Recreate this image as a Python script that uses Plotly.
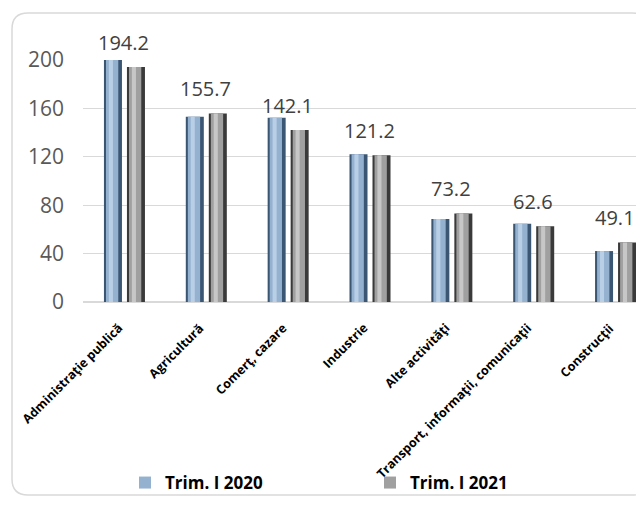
import plotly.graph_objects as go

# data
categories = ["Administraţie publică", "Agricultură", "Comerţ, cazare", "Industrie",
              "Alte activităţi", "Transport, informaţii, comunicaţii", "Construcţii"]
trim_2020 = [200.9, 153.1, 152.3, 122.1, 68.6, 64.7, 42.1]
trim_2021 = [194.2, 155.7, 142.1, 121.2, 73.2, 62.6, 49.1]
y_ticks = [0, 40, 80, 120, 160, 200]

# page geometry in px (the page body has an 8px margin)
OFF = 8
W, H = 644, 508
L, T, B = 83, 60, 302
PW, PH = W - L, B - T


def px_x(x):
    return (x - L) / PW


def px_y(y):
    return (B - y) / PH


fig = go.Figure()

# layered bars to fake the bevelled look: dark base, mid body, light stripe
series = [
    ("Trim. I 2020", trim_2020, -0.244, ["#3b5673", "#94b1d0", "#cadcf0"]),
    ("Trim. I 2021", trim_2021, 0.037, ["#3a3a3a", "#a0a0a0", "#d8d8d8"]),
]
for name, vals, off, cols in series:
    fig.add_trace(go.Bar(x=categories, y=vals, offset=off, width=0.22,
                         marker=dict(color=cols[0], line=dict(width=0)),
                         showlegend=False, hoverinfo="skip"))
    fig.add_trace(go.Bar(x=categories, y=vals, offset=off + 0.025, width=0.15,
                         marker=dict(color=cols[1], line=dict(width=0)),
                         name=name, showlegend=True))
    fig.add_trace(go.Bar(x=categories, y=vals, offset=off + 0.06, width=0.05,
                         marker=dict(color=cols[2], line=dict(width=0)),
                         opacity=0.7, showlegend=False, hoverinfo="skip"))

# value labels above each category (2021 values)
for cat, v in zip(categories, trim_2021):
    fig.add_annotation(x=cat, y=v, yshift=25, text=f"{v:.1f}", showarrow=False,
                       font=dict(family="Open Sans", size=20, color="#404040"))

# rotated category labels, top-right corner just under the axis
for cat in categories:
    fig.add_annotation(x=cat, xref="x", y=px_y(317), yref="paper", xshift=5,
                       xanchor="right", yanchor="top", textangle=-45,
                       text=cat, showarrow=False,
                       font=dict(family="Open Sans", size=12.5, color="#000000", weight="bold"))

# rounded frame around the chart
l, r, t, b, rad = 12, 648, 13, 495, 16
path = (f"M {px_x(l + rad)},{px_y(t)} L {px_x(r - rad)},{px_y(t)} "
        f"Q {px_x(r)},{px_y(t)} {px_x(r)},{px_y(t + rad)} "
        f"L {px_x(r)},{px_y(b - rad)} Q {px_x(r)},{px_y(b)} {px_x(r - rad)},{px_y(b)} "
        f"L {px_x(l + rad)},{px_y(b)} Q {px_x(l)},{px_y(b)} {px_x(l)},{px_y(b - rad)} "
        f"L {px_x(l)},{px_y(t + rad)} Q {px_x(l)},{px_y(t)} {px_x(l + rad)},{px_y(t)} Z")
fig.add_shape(type="path", path=path, xref="paper", yref="paper",
              line=dict(color="#d9d9d9", width=1.5), layer="below")

fig.update_layout(
    width=W - OFF, height=H - OFF,
    margin=dict(l=L - OFF, r=0, t=T - OFF, b=H - B),
    paper_bgcolor="white", plot_bgcolor="white",
    barmode="overlay",
    font=dict(family="Open Sans"),
    legend=dict(orientation="h", x=px_x(125), xanchor="left", y=px_y(483), yanchor="middle",
                entrywidth=200, entrywidthmode="pixels", bgcolor="rgba(0,0,0,0)",
                font=dict(family="Open Sans", size=17, color="#000000", weight="bold")),
)
fig.update_xaxes(range=[-0.5, 6.354], showgrid=False, showticklabels=False)
fig.update_yaxes(range=[0, 200], tickvals=y_ticks, showgrid=True, gridcolor="#d9d9d9",
                 zeroline=True, zerolinecolor="#d9d9d9", ticklabelstandoff=18,
                 tickfont=dict(family="Open Sans", size=21, color="#595959"))

fig.write_html("out.html")
